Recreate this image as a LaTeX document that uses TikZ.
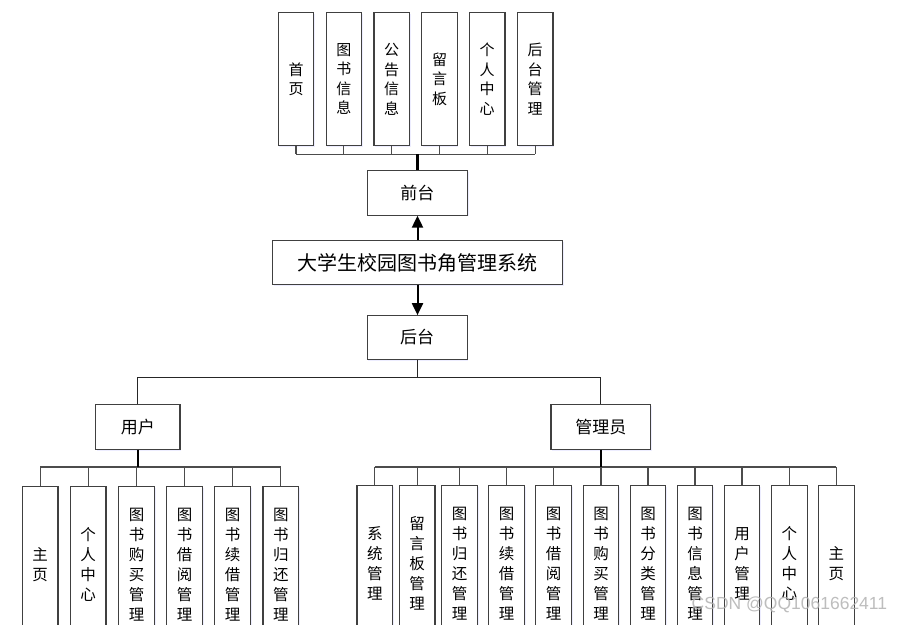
\documentclass[tikz,border=0pt]{standalone}
\usepackage{fontspec}
\newfontfamily\cjk{Noto Sans CJK SC}
\newfontfamily\wm{Liberation Sans}
\usetikzlibrary{arrows.meta,shadows}
\begin{document}
\begin{tikzpicture}[x=1pt,y=-1pt,
 box/.style={draw=black!75, line width=1.1pt, fill=white, inner sep=0pt,
   font=\cjk\fontsize{17}{20}\selectfont,
   drop shadow={shadow xshift=1.2pt, shadow yshift=-1.2pt, fill=blue!35, opacity=0.2}},
 hbox/.style={box, minimum width=100pt, minimum height=44.4pt},
 vtop/.style={box, minimum width=35.5pt, minimum height=133pt, align=center, font=\cjk\fontsize{15}{19.5}\selectfont},
 vbot/.style={box, minimum width=35.6pt, minimum height=156pt, align=center, font=\cjk\fontsize{15.5}{20}\selectfont},
 link/.style={draw=black!70, line width=1.3pt},
 dlink/.style={draw=black!85, line width=1.3pt},
 stem/.style={draw=black, line width=2.4pt},
 arr/.style={draw=black, line width=2pt, -{Triangle[length=12pt,width=11pt]}}
]
\useasboundingbox (0,0) rectangle (905,624);
\clip (0,0) rectangle (905,624);
\fill[white] (0,0) rectangle (905,624);

% top
\node[vtop] (t1) at (296,79.2) {首\\页};
\node[vtop] (t2) at (343.8,79.2) {图\\书\\信\\息};
\node[vtop] (t3) at (391.7,79.2) {公\\告\\信\\息};
\node[vtop] (t4) at (439.5,79.2) {留\\言\\板};
\node[vtop] (t5) at (487.2,79.2) {个\\人\\中\\心};
\node[vtop] (t6) at (535.2,79.2) {后\\台\\管\\理};
\node[hbox] (qt) at (417.3,192.9) {前台};
\node[box, minimum width=289.6pt, minimum height=43.6pt, font=\cjk\fontsize{20}{22}\selectfont] (main) at (417.5,262.5) {大学生校园图书角管理系统};
\node[hbox, minimum height=43.6pt] (ht) at (417.2,337.5) {后台};
\node[hbox, minimum width=84.3pt, minimum height=44.6pt] (yh) at (137.8,427) {用户};
\node[hbox, minimum width=99.7pt, minimum height=44.6pt] (gl) at (600.8,427) {管理员};

% user children
\node[vbot] (u1) at (40.2,564.3) {主\\页};
\node[vbot] (u2) at (88.2,564.3) {个\\人\\中\\心};
\node[vbot] (u3) at (136.5,564.3) {图\\书\\购\\买\\管\\理};
\node[vbot] (u4) at (184.5,564.3) {图\\书\\借\\阅\\管\\理};
\node[vbot] (u5) at (232.5,564.3) {图\\书\\续\\借\\管\\理};
\node[vbot] (u6) at (280.8,564.3) {图\\书\\归\\还\\管\\理};

% admin children
\node[vbot] (a1) at (374.8,563.5) {系\\统\\管\\理};
\node[vbot] (a2) at (417.2,563.5) {留\\言\\板\\管\\理};
\node[vbot] (a3) at (459.5,563.5) {图\\书\\归\\还\\管\\理};
\node[vbot] (a4) at (506.7,563.5) {图\\书\\续\\借\\管\\理};
\node[vbot] (a5) at (553.7,563.5) {图\\书\\借\\阅\\管\\理};
\node[vbot] (a6) at (601,563.5) {图\\书\\购\\买\\管\\理};
\node[vbot] (a7) at (648,563.5) {图\\书\\分\\类\\管\\理};
\node[vbot] (a8) at (695,563.5) {图\\书\\信\\息\\管\\理};
\node[vbot] (a9) at (742,563.5) {用\\户\\管\\理};
\node[vbot] (a10) at (789.3,563.5) {个\\人\\中\\心};
\node[vbot] (a11) at (836.3,563.5) {主\\页};

% top connectors
\coordinate (tbus) at (0,154.3);
\foreach \n in {t1,t2,t3,t4,t5,t6} {\draw[link] (\n.south) -- (\n.south |- tbus);}
\draw[link] (t1.south |- tbus) -- (t6.south |- tbus);
\draw[stem] (qt.north) -- (qt.north |- tbus);

% arrows
\draw[arr] (main.north) -- (main.north |- qt.south);
\draw[arr] (main.south) -- (main.south |- ht.north);

% backend split
\coordinate (hbus) at (0,377.3);
\draw[dlink] (ht.south) -- (ht.south |- hbus);
\draw[dlink] (yh.north) -- (yh.north |- hbus) -- (gl.north |- hbus) -- (gl.north);

% user bus
\coordinate (ubus) at (0,467);
\foreach \n in {u1,u2,u3,u4,u5,u6} {\draw[link] (\n.north) -- (\n.north |- ubus);}
\draw[link] (u1.north |- ubus) -- (u6.north |- ubus);
\draw[stem] (yh.south) -- (yh.south |- ubus);

% admin bus
\foreach \n in {a1,a2,a3,a4,a5,a6,a7,a8,a9,a10,a11} {\draw[link] (\n.north) -- (\n.north |- ubus);}
\draw[link] (a1.north |- ubus) -- (a11.north |- ubus);
\draw[stem] (gl.south) -- (gl.south |- ubus);

% watermark
\node[font=\wm\fontsize{17.5}{20}\selectfont, text=black!30, opacity=0.85, anchor=west, inner sep=0pt] (wm) at (691.5,605) {CSDN @QQ1061662411};
\end{tikzpicture}
\end{document}
